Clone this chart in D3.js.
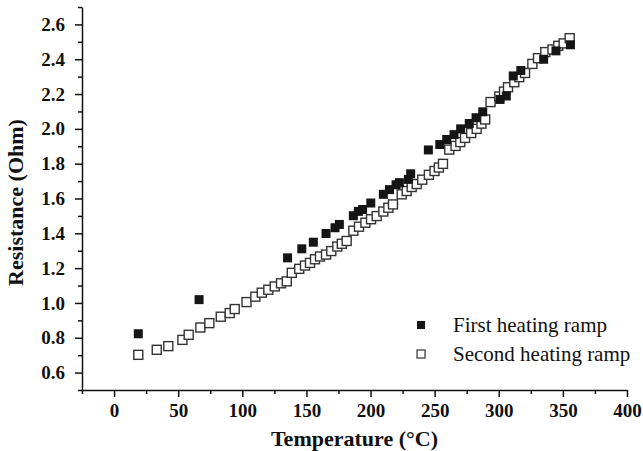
<!DOCTYPE html>
<html><head><meta charset="utf-8">
<script src="https://cdn.jsdelivr.net/npm/d3@7"></script>
<style>
html,body{margin:0;padding:0;background:#fff;}
svg{display:block;}
</style></head>
<body>
<script>
// Data
const firstT = [18.9,66.3,135.3,146.4,155.4,165.3,172.3,175.7,186.6,190.5,193.8,200.2,210,214.8,219.9,222.5,229.5,231.3,245.1,254,259.4,265.1,270.3,277,282.3,287.5,301,305.9,311.3,317.2,335,344.6,355.9];
const firstR = [0.823,1.019,1.259,1.311,1.349,1.399,1.432,1.451,1.501,1.526,1.537,1.574,1.624,1.651,1.679,1.691,1.710,1.742,1.879,1.910,1.939,1.967,2.000,2.031,2.064,2.098,2.169,2.189,2.304,2.335,2.400,2.448,2.483];
const secondT = [18.9,33.3,42.3,53.3,58.2,67.3,74.3,83.2,90.2,94.1,103.3,110.2,115.2,120.3,125.3,130.2,134.7,138.6,144.4,148.9,152.8,156.7,160.6,165.3,169.4,174.1,177.6,181.4,186.6,191.0,196.0,200.4,204.8,210.0,213.9,217.5,224.3,228.2,232.1,236.0,240.3,245.5,249.9,253.3,256.5,261.4,266.3,270.0,273.7,278.5,282.8,286.5,289.4,293.6,300.4,304.1,307.2,312.1,316.0,320.5,326.2,330.6,336.3,341.9,346.4,350.6,355.3];
const secondR = [0.702,0.731,0.752,0.788,0.817,0.859,0.884,0.921,0.942,0.965,1.005,1.036,1.059,1.076,1.095,1.113,1.124,1.173,1.196,1.215,1.230,1.251,1.267,1.278,1.298,1.324,1.340,1.356,1.415,1.438,1.461,1.481,1.499,1.525,1.547,1.566,1.624,1.643,1.666,1.683,1.708,1.736,1.758,1.778,1.799,1.881,1.902,1.924,1.948,1.976,2.000,2.030,2.054,2.154,2.186,2.214,2.239,2.268,2.297,2.321,2.373,2.406,2.441,2.456,2.477,2.491,2.521];
const xTicks = [0,50,100,150,200,250,300,350,400];
const xMinor = [-25,25,75,125,175,225,275,325,375];
const yTicks = [0.6,0.8,1.0,1.2,1.4,1.6,1.8,2.0,2.2,2.4,2.6];
const yMinor = [0.5,0.7,0.9,1.1,1.3,1.5,1.7,1.9,2.1,2.3,2.5,2.7];
const seriesNames = ["First heating ramp","Second heating ramp"];
const xLabel = "Temperature (\u00B0C)";
const yLabel = "Resistance (Ohm)";

const W = 643, H = 451;
const L = 82, R = 627, T = 7, B = 390;
const font = "'Liberation Serif','Times New Roman',Times,serif";

const svg = d3.select("body").append("svg").attr("width", W).attr("height", H);
const x = d3.scaleLinear().domain([-25, 400]).range([L, R]);
const y = d3.scaleLinear().domain([0.5, 2.7]).range([B, T]);

// X axis
const gx = svg.append("g").attr("transform", `translate(0,${B})`);
gx.call(d3.axisBottom(x).tickValues(xMinor).tickSize(4).tickFormat(""));
gx.call(g => g.selectAll(".domain").remove());
const gx2 = svg.append("g").attr("transform", `translate(0,${B})`)
  .call(d3.axisBottom(x).tickValues(xTicks).tickSize(7).tickSizeOuter(0).tickPadding(7).tickFormat(d3.format("d")));
// Y axis
const gy = svg.append("g").attr("transform", `translate(${L},0)`);
gy.call(d3.axisLeft(y).tickValues(yMinor).tickSize(4).tickFormat(""));
gy.call(g => g.selectAll(".domain").remove());
const gy2 = svg.append("g").attr("transform", `translate(${L},0)`)
  .call(d3.axisLeft(y).tickValues(yTicks).tickSize(7).tickSizeOuter(0).tickPadding(10).tickFormat(d3.format(".1f")));

svg.selectAll(".domain, .tick line").attr("stroke", "#111").attr("stroke-width", 1.5);
svg.selectAll(".tick text").attr("font-family", font).attr("font-weight", "bold")
  .attr("font-size", 19).attr("fill", "#111");

// Titles
svg.append("text").attr("x", (L + R) / 2).attr("y", 446).attr("text-anchor", "middle")
  .attr("font-family", font).attr("font-weight", "bold").attr("font-size", 22).attr("fill", "#111")
  .text(xLabel);
svg.append("text").attr("transform", `translate(23,${(T + B) / 2 + 4}) rotate(-90)`).attr("text-anchor", "middle")
  .attr("font-family", font).attr("font-weight", "bold").attr("font-size", 22).attr("fill", "#111")
  .text(yLabel);

const S = 9;
// Second (open) series
svg.append("g").selectAll("rect").data(secondT.map((t, i) => [t, secondR[i]])).join("rect")
  .attr("x", d => x(d[0]) - S / 2).attr("y", d => y(d[1]) - S / 2)
  .attr("width", S).attr("height", S)
  .attr("fill", "#fff").attr("stroke", "#333").attr("stroke-width", 1.4);
// First (filled) series
svg.append("g").selectAll("rect").data(firstT.map((t, i) => [t, firstR[i]])).join("rect")
  .attr("x", d => x(d[0]) - S / 2).attr("y", d => y(d[1]) - S / 2)
  .attr("width", S).attr("height", S)
  .attr("fill", "#151515");

// Legend
const lg = svg.append("g");
const ly = [325, 354];
seriesNames.forEach((n, i) => {
  lg.append("rect").attr("x", 421 - 4).attr("y", ly[i] - 4).attr("width", 8).attr("height", 8)
    .attr("fill", i === 0 ? "#151515" : "#fff")
    .attr("stroke", i === 0 ? "none" : "#333").attr("stroke-width", 1.2);
  lg.append("text").attr("x", 453).attr("y", ly[i] + 7)
    .attr("font-family", font).attr("font-size", 21).attr("fill", "#111").text(n);
});
</script>
</body></html>
